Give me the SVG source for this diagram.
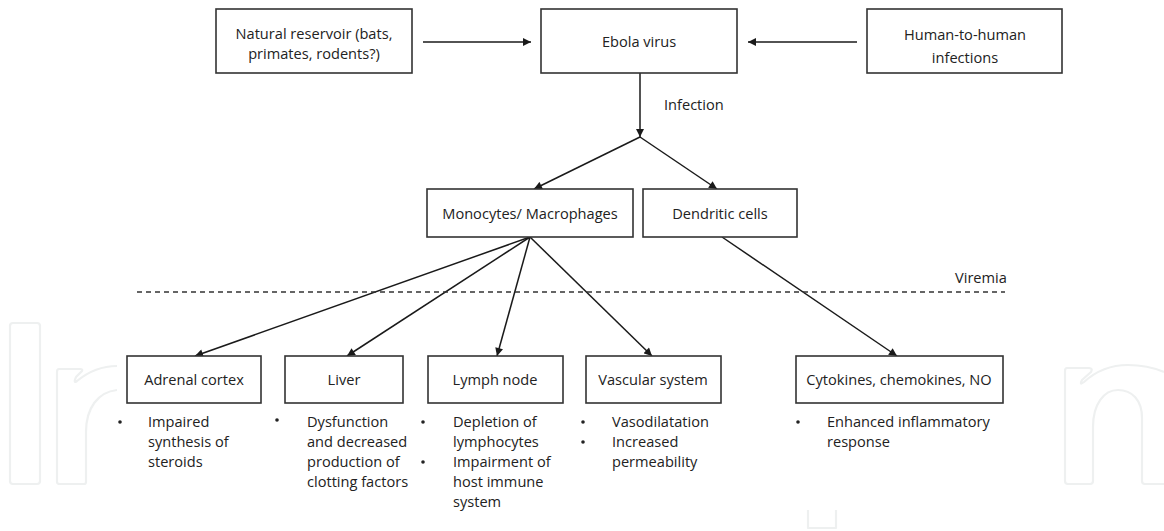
<svg xmlns="http://www.w3.org/2000/svg" width="1164" height="531" viewBox="0 0 1164 531">
<style>
.box{fill:#fff;stroke:#333;stroke-width:1.6}
.t{font-family:"Open Sans","Liberation Sans",sans-serif;font-size:14.6px;fill:#222}
.c{text-anchor:middle}
.ln{stroke:#1a1a1a;stroke-width:1.5;fill:none}
.wm{fill:none;stroke:#eef0f0;stroke-width:2.2;stroke-linejoin:round}
</style>
<defs>
<marker id="ah" viewBox="0 0 10 10" refX="10" refY="5" markerWidth="9" markerHeight="8" markerUnits="userSpaceOnUse" orient="auto">
<path d="M0,0 L10,5 L0,10 z" fill="#1a1a1a"/>
</marker>
</defs>
<rect width="1164" height="531" fill="#fff"/>
<g id="watermark">
<rect class="wm" x="10" y="323" width="30" height="161" rx="3"/>
<path class="wm" d="M117,366 C100,366 88,372 77,381 Q73,384 76,377 L82,371 Q83,369 80,369 L59,369 Q57,369 57,372 L57,482 Q57,484 60,484 L84,484 Q86,484 86,482 L86,432 C86,408 98,392 117,390"/>
<path class="wm" d="M1164,372 C1150,366 1140,365 1128,365 C1110,365 1095,372 1084,382 Q1079,386 1082,380 L1091,372 Q1093,368 1089,368 L1067,368 Q1065,368 1065,371 L1065,481 Q1065,484 1068,484 L1090,484 Q1093,484 1093,481 L1093,427 C1093,404 1104,390 1118,390 C1132,390 1142,400 1142,418 L1142,481 Q1142,484 1145,484 L1164,484"/>
<path class="wm" d="M808,510 L808,528 L836,528 L836,510"/>
</g>
<g id="connectors">
<line class="ln" x1="423" y1="42" x2="531" y2="42" marker-end="url(#ah)"/>
<line class="ln" x1="857" y1="42" x2="748" y2="42" marker-end="url(#ah)"/>
<line class="ln" x1="640" y1="73" x2="640" y2="137" marker-end="url(#ah)"/>
<line class="ln" x1="640" y1="137" x2="534" y2="189" marker-end="url(#ah)"/>
<line class="ln" x1="640" y1="137" x2="717" y2="189" marker-end="url(#ah)"/>
<line class="ln" x1="530" y1="237" x2="195" y2="356" marker-end="url(#ah)"/>
<line class="ln" x1="530" y1="237" x2="347" y2="356" marker-end="url(#ah)"/>
<line class="ln" x1="530" y1="237" x2="497" y2="356" marker-end="url(#ah)"/>
<line class="ln" x1="530" y1="237" x2="652" y2="356" marker-end="url(#ah)"/>
<line class="ln" x1="722" y1="237" x2="897" y2="356" marker-end="url(#ah)"/>
<line x1="137" y1="292" x2="1005" y2="292" stroke="#333" stroke-width="1.3" stroke-dasharray="5,4"/>
<text class="t" x="664" y="110">Infection</text>
<text class="t" x="955" y="283">Viremia</text>
</g>
<g id="reservoir">
<rect class="box" x="216" y="9" width="196" height="64"/>
<text class="t c" x="314" y="39">Natural reservoir (bats,</text>
<text class="t c" x="314" y="59">primates, rodents?)</text>
</g>
<g id="ebola">
<rect class="box" x="541" y="9" width="196" height="64"/>
<text class="t c" x="639" y="47">Ebola virus</text>
</g>
<g id="human">
<rect class="box" x="867" y="9" width="195" height="64"/>
<text class="t c" x="965" y="40">Human-to-human</text>
<text class="t c" x="965" y="63">infections</text>
</g>
<g id="monocytes">
<rect class="box" x="427" y="189" width="206" height="48"/>
<text class="t c" x="530" y="219">Monocytes/ Macrophages</text>
</g>
<g id="dendritic">
<rect class="box" x="643" y="189" width="154" height="48"/>
<text class="t c" x="720" y="219">Dendritic cells</text>
</g>
<g id="adrenal">
<rect class="box" x="127" y="356" width="134" height="47"/>
<text class="t c" x="194" y="385">Adrenal cortex</text>
<circle cx="120" cy="422" r="1.8" fill="#222"/>
<text class="t" x="148" y="427">Impaired</text>
<text class="t" x="148" y="447">synthesis of</text>
<text class="t" x="148" y="467">steroids</text>
</g>
<g id="liver">
<rect class="box" x="285" y="356" width="118" height="47"/>
<text class="t c" x="344" y="385">Liver</text>
<circle cx="277" cy="420" r="1.8" fill="#222"/>
<text class="t" x="307" y="427">Dysfunction</text>
<text class="t" x="307" y="447">and decreased</text>
<text class="t" x="307" y="467">production of</text>
<text class="t" x="307" y="487">clotting factors</text>
</g>
<g id="lymph">
<rect class="box" x="428" y="356" width="135" height="47"/>
<text class="t c" x="495" y="385">Lymph node</text>
<circle cx="423" cy="422" r="1.8" fill="#222"/>
<text class="t" x="453" y="427">Depletion of</text>
<text class="t" x="453" y="447">lymphocytes</text>
<circle cx="423" cy="462" r="1.8" fill="#222"/>
<text class="t" x="453" y="467">Impairment of</text>
<text class="t" x="453" y="487">host immune</text>
<text class="t" x="453" y="507">system</text>
</g>
<g id="vascular">
<rect class="box" x="586" y="356" width="135" height="47"/>
<text class="t c" x="653" y="385">Vascular system</text>
<circle cx="583" cy="422" r="1.8" fill="#222"/>
<text class="t" x="612" y="427">Vasodilatation</text>
<circle cx="583" cy="442" r="1.8" fill="#222"/>
<text class="t" x="612" y="447">Increased</text>
<text class="t" x="612" y="467">permeability</text>
</g>
<g id="cytokines">
<rect class="box" x="796" y="356" width="207" height="47"/>
<text class="t c" x="899" y="385">Cytokines, chemokines, NO</text>
<circle cx="798" cy="422" r="1.8" fill="#222"/>
<text class="t" x="827" y="427">Enhanced inflammatory</text>
<text class="t" x="827" y="447">response</text>
</g>
</svg>
